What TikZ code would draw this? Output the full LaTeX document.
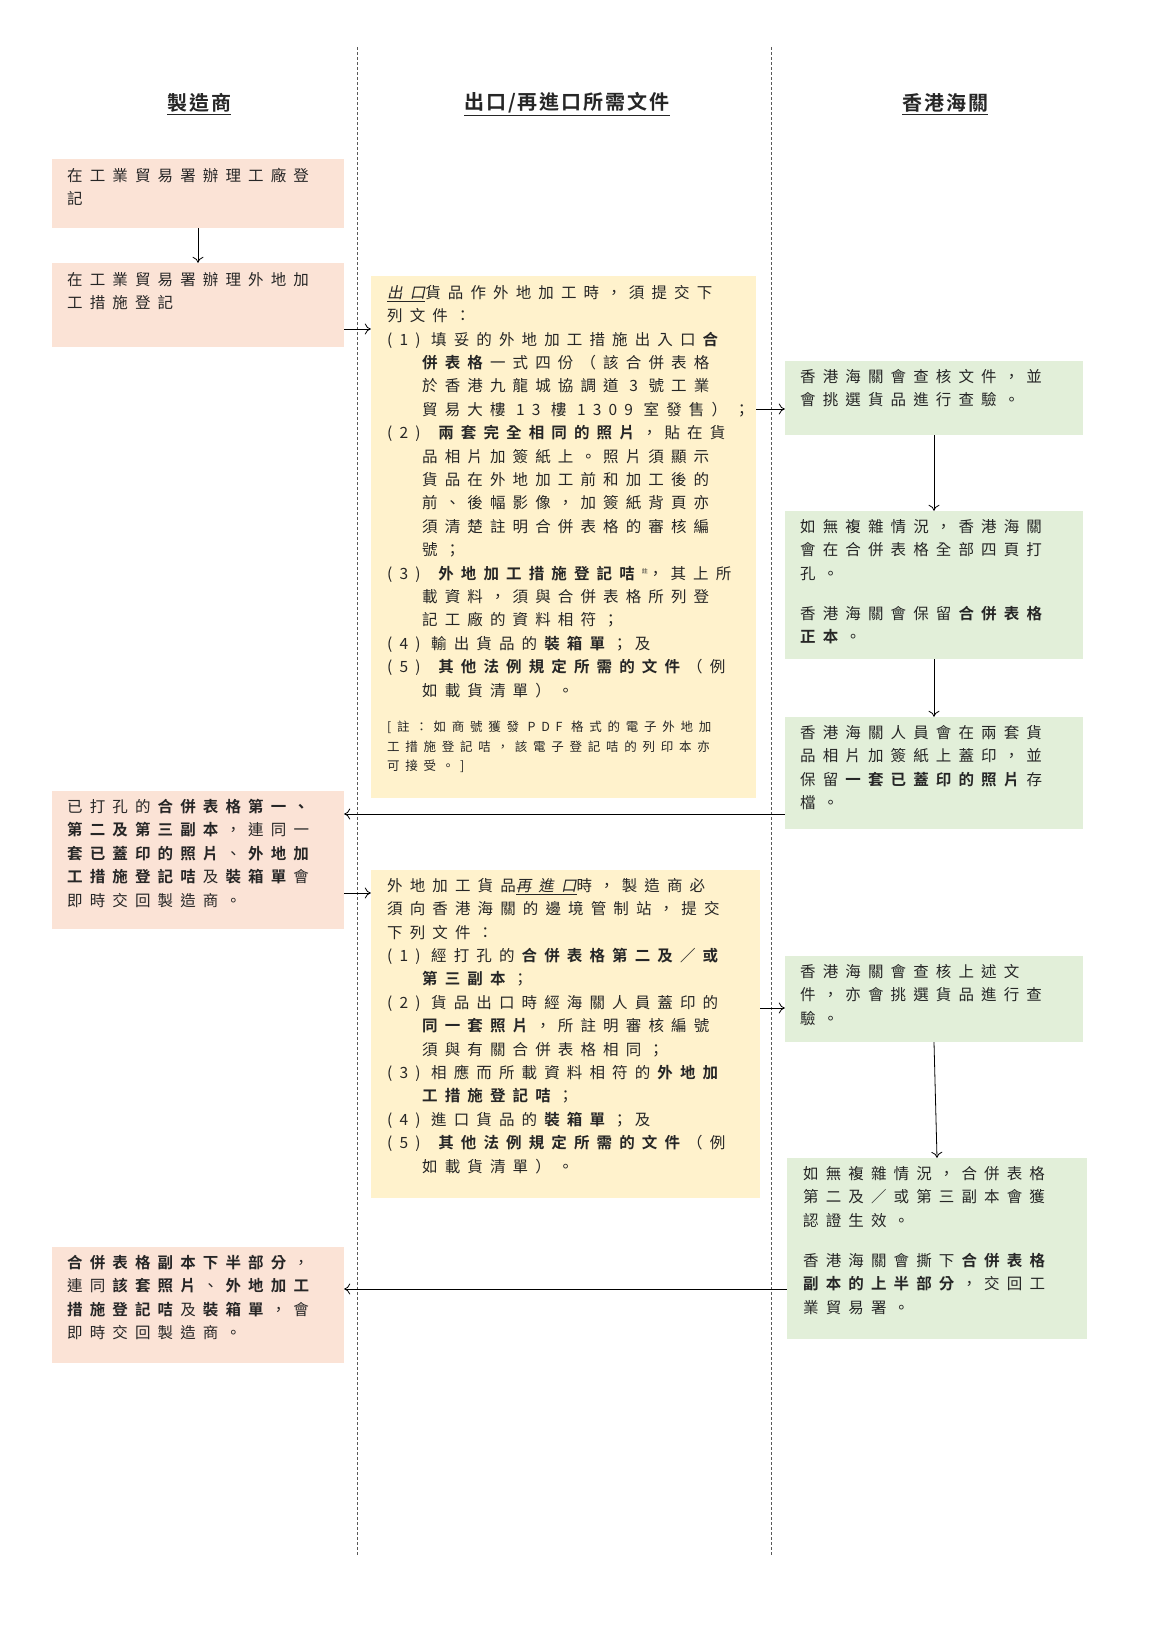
\documentclass[tikz,border=0pt]{standalone}
\usepackage{fontspec}
\usetikzlibrary{arrows.meta}
\setmainfont[LetterSpace=46,AutoFakeSlant=0.2,BoldFont={Noto Sans CJK TC Bold}]{Noto Sans CJK TC}
\newfontfamily\headfont[LetterSpace=10,BoldFont={Noto Sans CJK TC Bold}]{Noto Sans CJK TC}
\definecolor{pinkbg}{HTML}{FBE3D6}
\definecolor{yelbg}{HTML}{FFF2CC}
\definecolor{grnbg}{HTML}{E2EFD9}
\definecolor{txt}{HTML}{262626}
\newcommand{\ct}{\hspace*{35pt}}
\begin{document}
\begin{tikzpicture}[x=1pt,y=-1pt,
  pbox/.style={fill=pinkbg,draw=none},
  ybox/.style={fill=yelbg,draw=none},
  gbox/.style={fill=grnbg,draw=none},
  txtnode/.style={anchor=north west,inner sep=0pt,align=left,text=txt,font=\fontsize{15.5}{23.4}\selectfont},
  head/.style={font=\headfont\fontsize{20}{24}\selectfont\bfseries,text=txt},
  arr/.style={-{To[length=6pt,width=11pt]},line width=0.8pt,draw=black},
  divl/.style={dashed,dash pattern=on 3pt off 2pt,draw=gray!70!black,line width=0.6pt}]
\useasboundingbox (0,0) rectangle (1154,1631);
\fill[white] (0,0) rectangle (1154,1631);
% dividers
\draw[divl] (357,47) -- (357,1555);
\draw[divl] (771,47) -- (771,1555);
% headers
\node[head] (h1) at (199,104) {\underline{製造商}};
\node[head] (h2) at (567,104) {\underline{出口/再進口所需文件}};
\node[head] (h3) at (945,104) {\underline{香港海關}};
% left boxes
\path[pbox] (52,159) rectangle (344,228); \node (L1) at (198,193.5) [minimum width=292pt,minimum height=69pt] {};
\node[txtnode] at (67,168) {在工業貿易署辦理工廠登\\記};
\path[pbox] (52,263) rectangle (344,347); \node (L2) at (198,305) [minimum width=292pt,minimum height=84pt] {};
\node[txtnode] at (67,272) {在工業貿易署辦理外地加\\工措施登記};
\path[pbox] (52,791) rectangle (344,929); \node (L3) at (198,860) [minimum width=292pt,minimum height=138pt] {};
\node[txtnode] at (67,799) {已打孔的\textbf{合併表格第一、}\\\textbf{第二及第三副本}，連同一\\\textbf{套已蓋印的照片}、\textbf{外地加}\\\textbf{工措施登記咭}及\textbf{裝箱單}會\\即時交回製造商。};
\path[pbox] (52,1247) rectangle (344,1363); \node (L4) at (198,1305) [minimum width=292pt,minimum height=116pt] {};
\node[txtnode] at (67,1255) {\textbf{合併表格副本下半部分}，\\連同\textbf{該套照片}、\textbf{外地加工}\\\textbf{措施登記咭}及\textbf{裝箱單}，會\\即時交回製造商。};
% middle boxes
\path[ybox] (371,276) rectangle (756,798); \node (M1) at (563.5,537) [minimum width=385pt,minimum height=522pt] {};
\node[txtnode] at (387,285) {\textit{\underline{出口}}貨品作外地加工時，須提交下\\列文件：\\
(1) 填妥的外地加工措施出入口\textbf{合}\\\ct\textbf{併表格}一式四份（該合併表格\\\ct 於香港九龍城協調道 3 號工業\\\ct 貿易大樓 13 樓 1309 室發售）；\\
(2) \textbf{兩套完全相同的照片}，貼在貨\\\ct 品相片加簽紙上。照片須顯示\\\ct 貨品在外地加工前和加工後的\\\ct 前、後幅影像，加簽紙背頁亦\\\ct 須清楚註明合併表格的審核編\\\ct 號；\\
(3) \textbf{外地加工措施登記咭}\raisebox{6pt}{\fontsize{6}{6}\selectfont 註}，其上所\\\ct 載資料，須與合併表格所列登\\\ct 記工廠的資料相符；\\
(4) 輸出貨品的\textbf{裝箱單}；及\\
(5) \textbf{其他法例規定所需的文件}（例\\\ct 如載貨清單）。};
\node[txtnode,font=\fontsize{12.5}{19.3}\selectfont] at (387,721) {[註：如商號獲發 PDF 格式的電子外地加\\工措施登記咭，該電子登記咭的列印本亦\\可接受。]};
\path[ybox] (371,870) rectangle (760,1198); \node (M2) at (565.5,1034) [minimum width=389pt,minimum height=328pt] {};
\node[txtnode] at (387,878) {外地加工貨品\textit{\underline{再進口}}時，製造商必\\須向香港海關的邊境管制站，提交\\下列文件：\\
(1) 經打孔的\textbf{合併表格第二及／或}\\\ct\textbf{第三副本}；\\
(2) 貨品出口時經海關人員蓋印的\\\ct\textbf{同一套照片}，所註明審核編號\\\ct 須與有關合併表格相同；\\
(3) 相應而所載資料相符的\textbf{外地加}\\\ct\textbf{工措施登記咭}；\\
(4) 進口貨品的\textbf{裝箱單}；及\\
(5) \textbf{其他法例規定所需的文件}（例\\\ct 如載貨清單）。};
% right boxes
\path[gbox] (785,361) rectangle (1083,435); \node (R1) at (934,398) [minimum width=298pt,minimum height=74pt] {};
\node[txtnode] at (800,369) {香港海關會查核文件，並\\會挑選貨品進行查驗。};
\path[gbox] (785,511) rectangle (1083,659); \node (R2) at (934,585) [minimum width=298pt,minimum height=148pt] {};
\node[txtnode] at (800,519) {如無複雜情況，香港海關\\會在合併表格全部四頁打\\孔。\\[17pt]香港海關會保留\textbf{合併表格}\\\textbf{正本}。};
\path[gbox] (785,717) rectangle (1083,829); \node (R3) at (934,773) [minimum width=298pt,minimum height=112pt] {};
\node[txtnode] at (800,725) {香港海關人員會在兩套貨\\品相片加簽紙上蓋印，並\\保留\textbf{一套已蓋印的照片}存\\檔。};
\path[gbox] (785,956) rectangle (1083,1042); \node (R4) at (934,999) [minimum width=298pt,minimum height=86pt] {};
\node[txtnode] at (800,964) {香港海關會查核上述文\\件，亦會挑選貨品進行查\\驗。};
\path[gbox] (787,1158) rectangle (1087,1339); \node (R5) at (937,1248.5) [minimum width=300pt,minimum height=181pt] {};
\node[txtnode] at (803,1166) {如無複雜情況，合併表格\\第二及／或第三副本會獲\\認證生效。\\[17pt]香港海關會撕下\textbf{合併表格}\\\textbf{副本的上半部分}，交回工\\業貿易署。};
% arrows
\draw[arr] (L1.south) -- (L2.north);
\draw[arr] (L2.east |- {0,329}) -- (M1.west |- {0,329});
\draw[arr] (M1.east |- {0,409}) -- (R1.west |- {0,409});
\draw[arr] (R1.south) -- (R2.north);
\draw[arr] (R2.south) -- (R3.north);
\draw[arr] (R3.west |- {0,814}) -- (L3.east |- {0,814});
\draw[arr] (L3.east |- {0,893}) -- (M2.west |- {0,893});
\draw[arr] (M2.east |- {0,1008}) -- (R4.west |- {0,1008});
\draw[arr] (R4.south) -- (R5.north);
\draw[arr] (R5.west |- {0,1289}) -- (L4.east |- {0,1289});
\end{tikzpicture}
\end{document}
